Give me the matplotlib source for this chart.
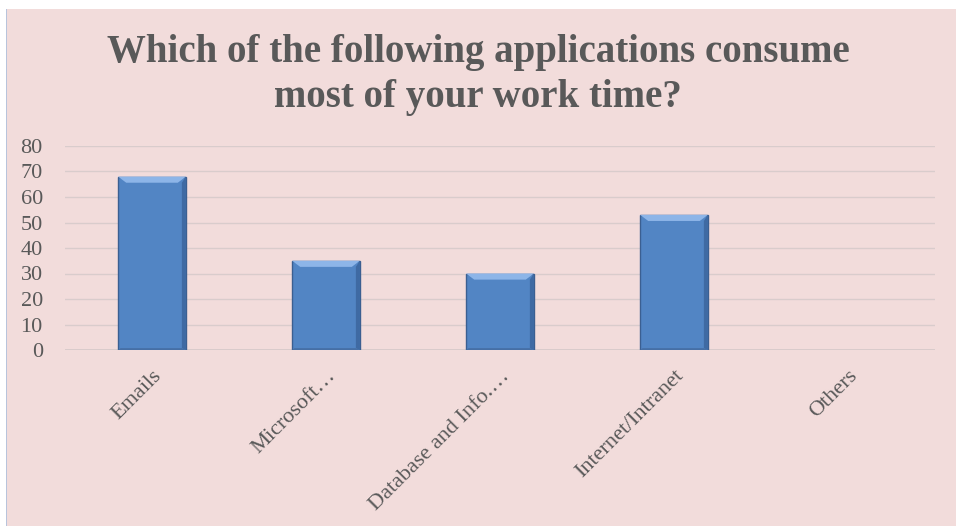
import matplotlib.pyplot as plt
from matplotlib.patches import Polygon, Rectangle

categories = ["Emails", "Microsoft…", "Database and Info.…", "Internet/Intranet", "Others"]
values = [68, 35, 30, 53, 0]
yticks = [0, 10, 20, 30, 40, 50, 60, 70, 80]

PINK = "#f2dcdb"
TEXT = "#595959"
BAR = "#5285c4"

plt.rcParams['font.family'] = ['Liberation Serif', 'DejaVu Serif']

fig = plt.figure(figsize=(9.56, 5.26), dpi=100)
fig.patch.set_facecolor("white")
# chart area panel with a thin blue left edge
fig.add_artist(Rectangle((7 / 956, 0), 1, 1 - 9 / 526, transform=fig.transFigure,
                         facecolor=PINK, edgecolor="none", zorder=0))
fig.add_artist(Rectangle((5.5 / 956, 0), 2 / 956, 1 - 9 / 526, transform=fig.transFigure,
                         facecolor="#b8c4dc", edgecolor="none", zorder=0))

ax = fig.add_axes([65 / 956, 1 - 350 / 526, 870 / 956, 204 / 526])
ax.set_facecolor("none")

x = list(range(len(categories)))
width = 0.39
bars = ax.bar(x, values, width=width, color=BAR, edgecolor="#3b5f91",
              linewidth=1.0, zorder=3)

# bevel highlights on each bar
for b in bars:
    h = b.get_height()
    if h <= 0:
        b.set_linewidth(0)
        continue
    x0, x1 = b.get_x(), b.get_x() + b.get_width()
    dx = b.get_width() * 0.12
    dy = min(2.4, h * 0.1)
    ax.add_patch(Polygon([(x0, h), (x1, h), (x1 - dx, h - dy), (x0 + dx, h - dy)],
                         closed=True, facecolor="#8db5e8", edgecolor="none", zorder=4))
    ax.add_patch(Polygon([(x1, h), (x1, 0), (x1 - dx * 0.5, dy * 0.3), (x1 - dx * 0.5, h - dy)],
                         closed=True, facecolor="#3f6aa3", edgecolor="none", zorder=4))
    ax.add_patch(Polygon([(x0, 0), (x1, 0), (x1 - dx * 0.5, dy * 0.3), (x0 + dx * 0.3, dy * 0.3)],
                         closed=True, facecolor="#466fa5", edgecolor="none", zorder=4))

ax.set_xlim(-0.5, len(categories) - 0.5)
ax.set_ylim(0, 80)
ax.set_yticks(yticks)
ax.yaxis.grid(True, color="#d9cccc", linewidth=1.0, zorder=0)
ax.set_axisbelow(True)
for s in ax.spines.values():
    s.set_visible(False)
ax.axhline(0, color="#d6c9c9", linewidth=1.2, zorder=2)

ax.tick_params(axis="both", length=0, colors=TEXT, labelsize=16)
ax.tick_params(axis="y", pad=16)
ax.set_xticks(x)
ax.set_xticklabels(categories, rotation=45, ha="right", rotation_mode="anchor")
ax.tick_params(axis="x", pad=12)

fig.text(0.5, 1 - 75 / 526,
         "Which of the following applications consume\nmost of your work time?",
         ha="center", va="center", fontsize=28, fontweight="bold", color=TEXT,
         linespacing=1.3)

fig.savefig("out.png", dpi=100, facecolor=fig.get_facecolor())
